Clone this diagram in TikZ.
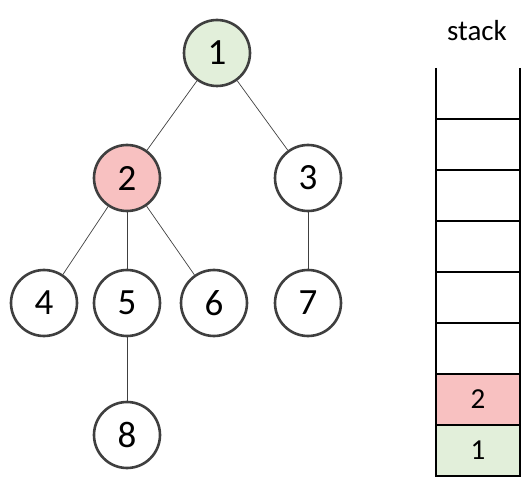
\documentclass[tikz,border=0pt]{standalone}
\usepackage{fontspec}
\setmainfont{Carlito}
\usetikzlibrary{positioning}
\definecolor{visitgreen}{HTML}{E2EFDA}
\definecolor{curpink}{HTML}{F8C1C1}
\definecolor{ringgray}{HTML}{3F3F3F}

\begin{document}
\begin{tikzpicture}[x=1pt, y=-1pt,
    vert/.style={circle, draw=ringgray, line width=2.6pt, fill=#1,
                 minimum size=66pt, inner sep=0pt, font=\fontsize{37}{37}\selectfont},
    vert/.default=white,
    edge/.style={draw=black!75, line width=0.7pt},
    cell/.style={draw=black, line width=1.3pt, fill=#1, minimum width=84pt,
                 minimum height=51pt, inner sep=0pt, font=\fontsize{29}{29}\selectfont},
]
    \useasboundingbox (0,0) rectangle (525,481);

    % === tree ===
    \node[vert=visitgreen] (n1) at (217,53) {1};
    \node[vert=curpink] (n2) at (127,178) {2};
    \node[vert] (n3) at (308,178) {3};
    \node[vert] (n4) at (44,303) {4};
    \node[vert] (n5) at (127,303) {5};
    \node[vert] (n6) at (214,303) {6};
    \node[vert] (n7) at (308,303) {7};
    \node[vert] (n8) at (127,435) {8};

    \draw[edge] (n1) -- (n2);
    \draw[edge] (n1) -- (n3);
    \draw[edge] (n2) -- (n4);
    \draw[edge] (n2) -- (n5);
    \draw[edge] (n2) -- (n6);
    \draw[edge] (n3) -- (n7);
    \draw[edge] (n5) -- (n8);

    % === stack ===
    \node[font=\fontsize{29}{29}\selectfont] (title) at (477,31) {stack};
    \node[cell=visitgreen] (s1) at (478,450.5) {1};
    \node[cell=curpink] (s2) at (478,399.5) {2};
    \draw[line width=1.3pt] (436,68) -- (436,476) (520,68) -- (520,476);
    \foreach \y in {119,170,221,272,323,374}
        \draw[line width=1.3pt] (436,\y) -- (520,\y);
\end{tikzpicture}
\end{document}
